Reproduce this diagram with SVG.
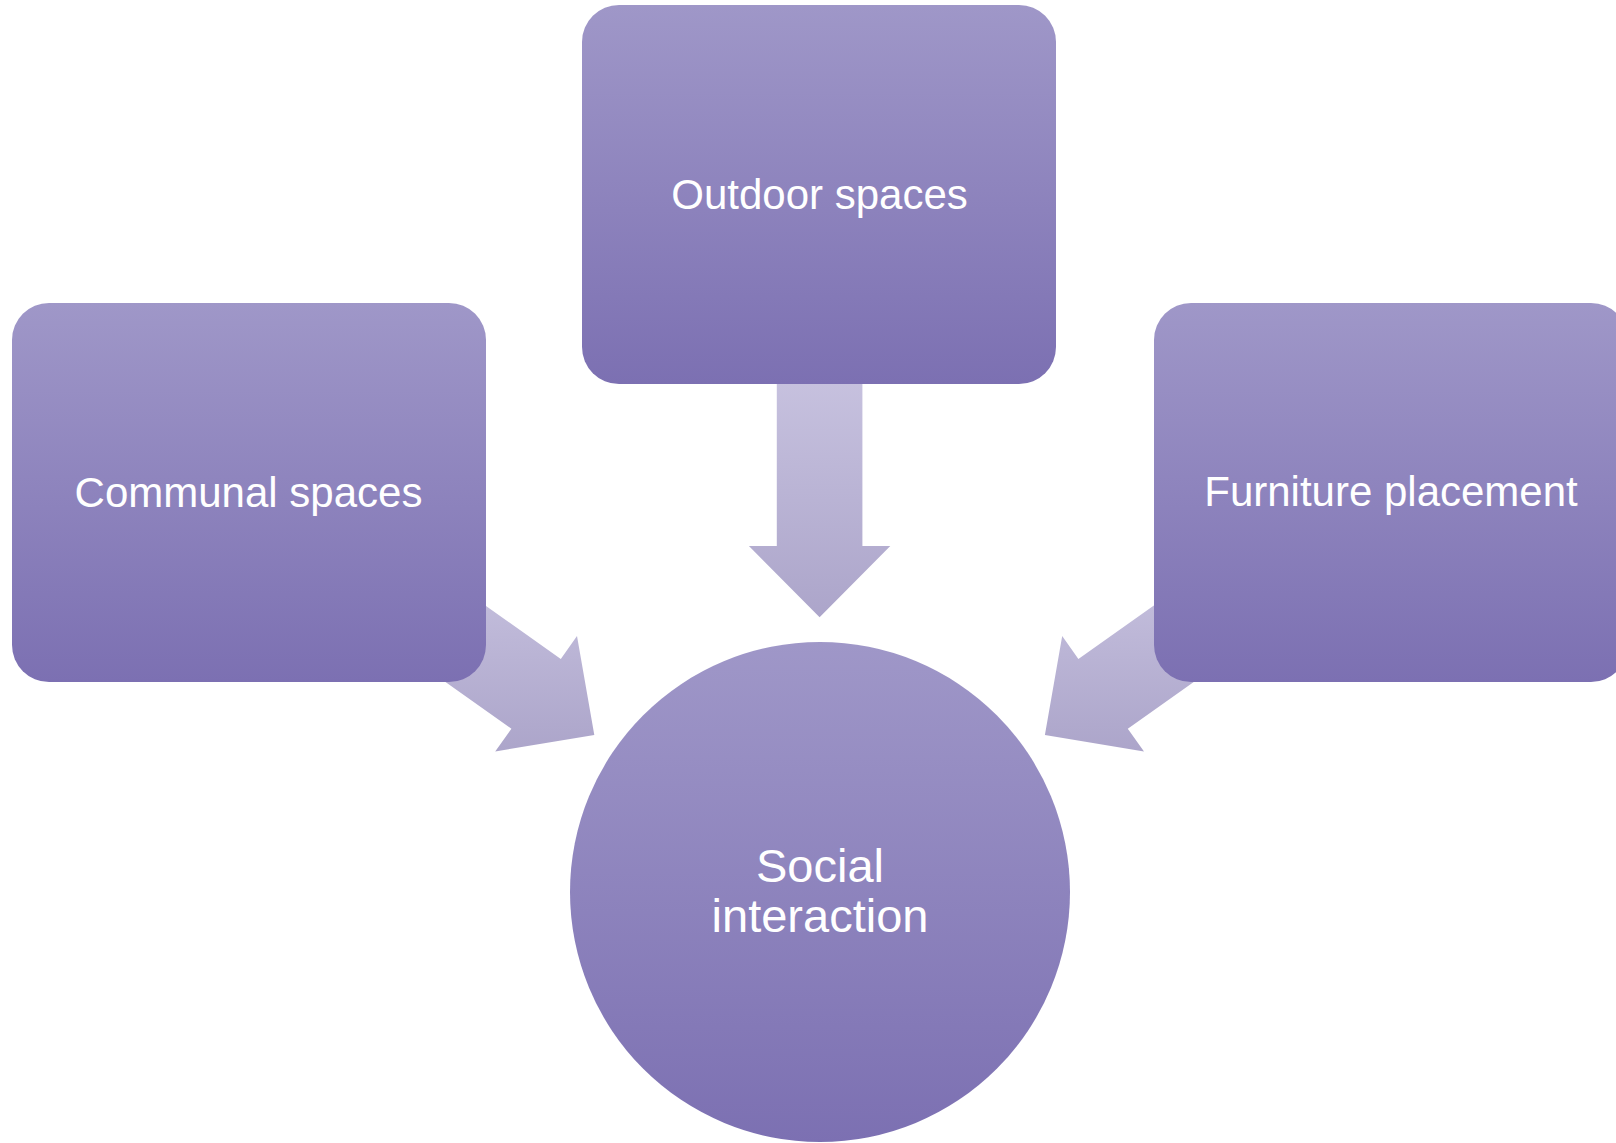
<svg xmlns="http://www.w3.org/2000/svg" width="1616" height="1143" viewBox="0 0 1616 1143">
<defs>
<linearGradient id="nodeGrad" x1="0" y1="0" x2="0" y2="1">
<stop offset="0" stop-color="#9f97c8"/>
<stop offset="1" stop-color="#7c70b2"/>
</linearGradient>
<linearGradient id="arrowGrad" x1="0" y1="0" x2="0" y2="1">
<stop offset="0" stop-color="#cbc6e2"/>
<stop offset="1" stop-color="#aca5ca"/>
</linearGradient>
<style>
.node{fill:url(#nodeGrad);}
.arrow{fill:url(#arrowGrad);}
.label{fill:#ffffff;font-family:"Liberation Sans",Arial,sans-serif;text-anchor:middle;}
.box{font-size:42px;}
.big{font-size:47px;}
</style>
</defs>
<rect width="1616" height="1143" fill="#ffffff"/>
<g id="connectors">
<polygon class="arrow" points="819.6,617.3 748.9,546 776.8,546 776.8,340 862.4,340 862.4,546 890.3,546"/>
<polygon class="arrow" points="594.3,735 577.0,636.1 560.8,658.9 389.4,537.5 340.0,607.3 511.4,728.7 495.2,751.5"/>
<polygon class="arrow" points="1044.9,735 1062.2,636.1 1078.4,658.9 1249.8,537.5 1299.2,607.3 1127.8,728.7 1144.0,751.5"/>
</g>
<g id="node-outdoor">
<rect class="node" x="582" y="5" width="474" height="379" rx="37" ry="37"/>
<text class="label box" x="819.5" y="209">Outdoor spaces</text>
</g>
<g id="node-communal">
<rect class="node" x="12" y="303" width="474" height="379" rx="37" ry="37"/>
<text class="label box" x="248.5" y="507">Communal spaces</text>
</g>
<g id="node-furniture">
<rect class="node" x="1154" y="303" width="474" height="379" rx="37" ry="37"/>
<text class="label box" x="1391" y="506">Furniture placement</text>
</g>
<g id="node-social">
<circle class="node" cx="820" cy="892" r="250"/>
<text class="label big" x="820" y="882">Social</text>
<text class="label big" x="820" y="931.5">interaction</text>
</g>
</svg>
